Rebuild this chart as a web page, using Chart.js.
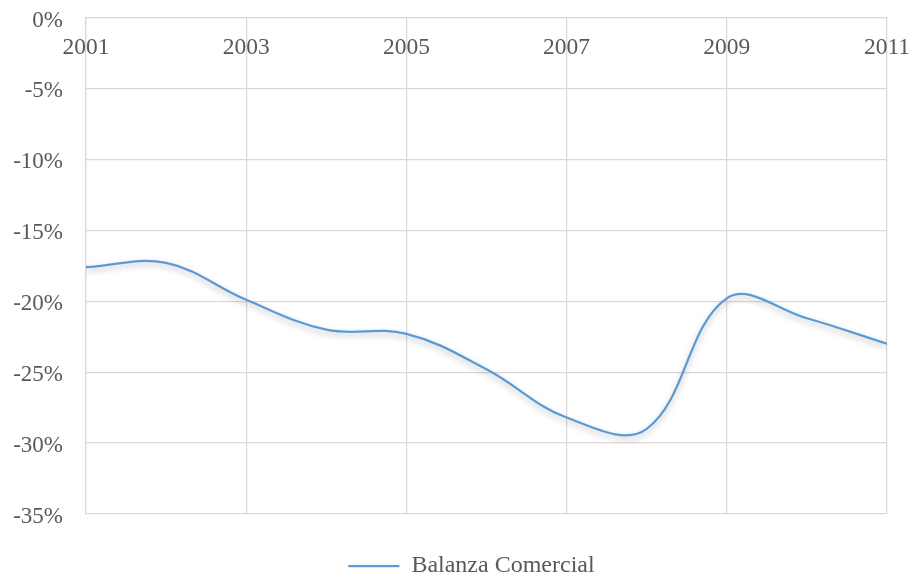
<!DOCTYPE html>
<html>
<head>
<meta charset="utf-8">
<script src="https://cdn.jsdelivr.net/npm/chart.js@4/dist/chart.umd.min.js"></script>
<style>
  html, body { margin: 0; padding: 0; background: #ffffff; }
  #wrap { width: 914px; height: 578px; }
</style>
</head>
<body>
<div id="wrap"><canvas id="chart" width="914" height="578"></canvas></div>
<script>
// Balanza comercial como % (2001-2011)
const years = [2001, 2002, 2003, 2004, 2005, 2006, 2007, 2008, 2009, 2010, 2011];
const balanza = [-17.6, -17.3, -19.9, -22.0, -22.3, -24.8, -28.2, -29.0, -19.8, -21.2, -23.0];
const seriesName = 'Balanza Comercial';
const yTickMin = -35;
const yTickMax = 0;
const yTickStep = 5;
const xTickStep = 2;

const FONT = '"Liberation Serif", "Times New Roman", serif';
const TEXT = '#595959';
const GRID = '#d9d9d9';
const LINE = '#5b9bd5';
const CLEAR = 'rgba(0,0,0,0)';

// soft drop shadow under the series line
const lineShadow = {
  id: 'lineShadow',
  beforeDatasetDraw(chart) {
    const ctx = chart.ctx;
    ctx.save();
    ctx.shadowColor = 'rgba(0,0,0,0.28)';
    ctx.shadowBlur = 6;
    ctx.shadowOffsetX = 0;
    ctx.shadowOffsetY = 3;
  },
  afterDatasetDraw(chart) {
    chart.ctx.restore();
  }
};

// centre the legend under the plot area and drop it a little lower
const legendOffset = {
  id: 'legendOffset',
  afterLayout(chart, args, opts) {
    const lg = chart.legend;
    if (!lg) return;
    lg.left += opts.dx; lg.right += opts.dx;
    lg.top += opts.dy; lg.bottom += opts.dy;
  }
};

new Chart(document.getElementById('chart'), {
  type: 'line',
  data: {
    datasets: [{
      label: seriesName,
      data: years.map((yr, i) => ({ x: yr, y: balanza[i] })),
      borderColor: LINE,
      backgroundColor: LINE,
      borderWidth: 2.25,
      pointRadius: 0,
      pointHoverRadius: 0,
      tension: 0.38,
      fill: false
    }]
  },
  options: {
    responsive: false,
    animation: false,
    devicePixelRatio: 1,
    layout: { padding: { left: 0, right: 0, top: 17.5, bottom: 0 } },
    plugins: {
      tooltip: { enabled: false },
      legendOffset: { dx: 14.5, dy: 10 },
      legend: {
        position: 'bottom',
        labels: {
          font: { family: FONT, size: 24 },
          color: TEXT,
          boxWidth: 51,
          boxHeight: 0,
          padding: 0
        }
      }
    },
    scales: {
      x: {
        type: 'linear',
        position: { y: 0 },
        min: years[0],
        max: years[years.length - 1],
        ticks: {
          stepSize: xTickStep,
          font: { family: FONT, size: 23.5 },
          color: TEXT,
          padding: 0,
          maxRotation: 0,
          autoSkip: false,
          callback: v => String(v)
        },
        grid: { color: GRID, lineWidth: 1.25, drawTicks: true, tickLength: 16, tickColor: CLEAR },
        border: { color: GRID, width: 1.25 }
      },
      y: {
        type: 'linear',
        position: 'left',
        min: yTickMin,
        max: yTickMax,
        ticks: {
          stepSize: yTickStep,
          font: { family: FONT, size: 23 },
          color: TEXT,
          padding: 3,
          labelOffset: 3,
          callback: v => v + '%'
        },
        grid: { color: GRID, lineWidth: 1.25, drawTicks: true, tickLength: 20, tickColor: CLEAR },
        border: { color: GRID, width: 1.25 },
        afterFit: s => { s.width = 86; }
      },
      // empty spacer axes that reserve the right margin and the gap above the legend
      spacerRight: {
        type: 'linear',
        position: 'right',
        display: true,
        ticks: { display: false },
        grid: { display: false },
        border: { display: false },
        afterFit: s => { s.width = 27; }
      },
      spacerBottom: {
        type: 'linear',
        axis: 'x',
        position: 'bottom',
        display: true,
        ticks: { display: false },
        grid: { display: false },
        border: { display: false },
        afterFit: s => { s.height = 30; }
      }
    }
  },
  plugins: [lineShadow, legendOffset]
});
</script>
</body>
</html>
